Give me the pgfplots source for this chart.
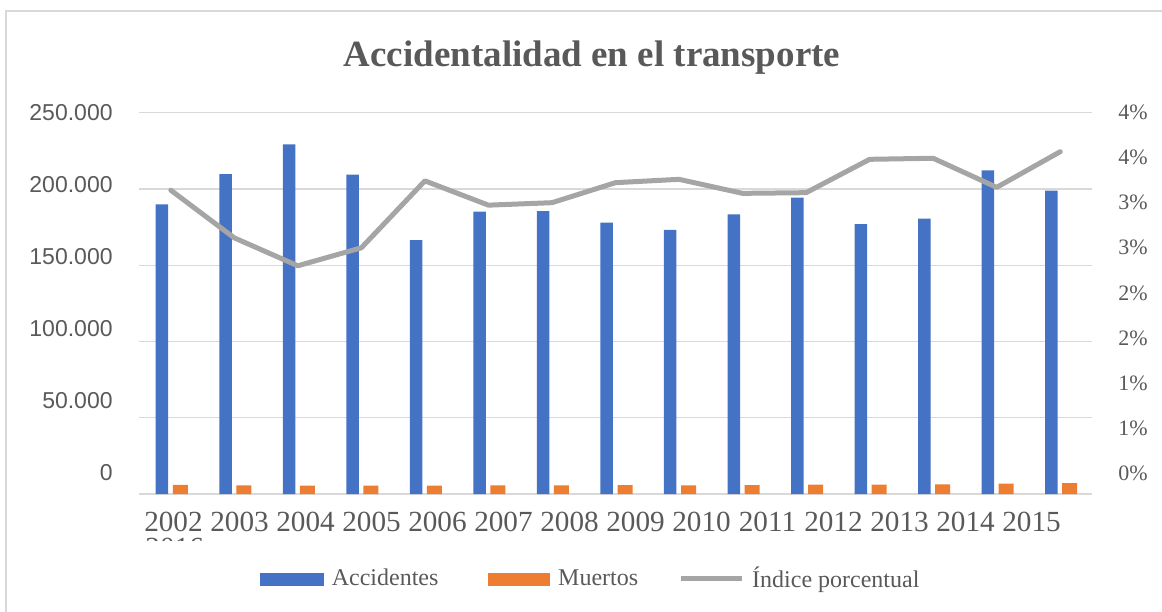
\documentclass[border=0pt]{standalone}
\usepackage{fontspec}
\setmainfont{Liberation Serif}
\newfontfamily\arial{Liberation Sans}
\usepackage{pgfplots}
\usepackage{pgfplotstable}
\pgfplotsset{compat=1.18}

\definecolor{accblue}{HTML}{4472C4}
\definecolor{accorange}{HTML}{ED7D31}
\definecolor{linegray}{HTML}{A5A5A5}
\definecolor{gridgray}{HTML}{D9D9D9}
\definecolor{labgray}{HTML}{595959}

% year, index on x, accidentes, muertos, indice (%)
\pgfplotstableread{
year idx acc mue ind
2002 0  189900 6050 3.187
2003 1  209800 5640 2.687
2004 2  229300 5490 2.394
2005 3  209400 5410 2.583
2006 4  166500 5470 3.285
2007 5  185100 5610 3.030
2008 6  185500 5670 3.056
2009 7  177900 5810 3.266
2010 8  173100 5710 3.301
2011 9  183400 5780 3.154
2012 10 194300 6140 3.161
2013 11 177000 6210 3.511
2014 12 180500 6360 3.522
2015 13 212200 6830 3.217
2016 14 198900 7140 3.591
}\datatable

\pgfplotsset{
  base/.style={
    at={(69.5pt,58.5pt)}, anchor=south west,
    width=476.5pt, height=190.65pt, scale only axis,
    xmin=-0.5, xmax=14.5,
    axis line style={draw=none},
    major tick length=0pt,
    scaled y ticks=false,
  },
}

\begin{document}
\begin{tikzpicture}[x=0.5pt,y=0.5pt]
\path[use as bounding box] (0,0) rectangle (1162,611);
\draw[gridgray, line width=1pt] (6,-30) rectangle (1200,600);

\node[anchor=base, text=labgray, font=\bfseries\fontsize{18.5}{22}\selectfont]
  at (592,544.3) {Accidentalidad en el transporte};

% bars + grid + x labels
\begin{axis}[base,
  ymin=0, ymax=250000,
  ytick={0,50000,100000,150000,200000,250000},
  yticklabel=\empty,
  ymajorgrids, grid style={draw=gridgray, line width=0.7pt},
  xtick={0.043,1.082,2.121,3.160,4.198,5.237,6.276,7.315,8.354,9.393,10.431,11.470,12.509,13.548},
  xticklabels={2002,2003,2004,2005,2006,2007,2008,2009,2010,2011,2012,2013,2014,2015},
  x tick label style={anchor=north, inner sep=0pt, yshift=-9pt,
    text=labgray, font=\fontsize{14.6}{17}\selectfont},
]
\addplot[ybar, bar width=6.25pt, bar shift=-4.4pt, fill=accblue, draw=none]
  table[x=idx, y=acc] {\datatable};
\addplot[ybar, bar width=7.5pt, bar shift=4.75pt, fill=accorange, draw=none]
  table[x=idx, y=mue] {\datatable};
\end{axis}

% line + legend
\begin{axis}[base,
  ymin=0, ymax=4,
  hide axis,
  legend columns=3,
  legend style={draw=none, fill=none, at={(0.127,-0.2229)}, anchor=west,
    inner sep=0pt, outer sep=0pt,
    nodes={inner sep=0pt, text=labgray, font=\fontsize{12}{14}\selectfont},
    /tikz/every odd column/.append style={column sep=4pt},
    /tikz/column 2/.append style={column sep=25pt},
    /tikz/column 4/.append style={column sep=20pt}},
]
\addlegendimage{legend image code/.code={\fill[accblue] (0pt,-3pt) rectangle (31.5pt,3pt);}}
\addlegendimage{legend image code/.code={\fill[accorange] (0pt,-3pt) rectangle (30.5pt,3pt);}}
\addlegendimage{legend image code/.code={\draw[linegray, line width=2.5pt] (0pt,0pt) -- (30.5pt,0pt);}}
\addplot[linegray, line width=2.5pt, line join=round, line cap=round, forget plot]
  table[x=idx, y=ind] {\datatable};
\legend{Accidentes, Muertos, Índice porcentual}
\end{axis}

% left labels
\begin{axis}[base,
  ymin=-14550, ymax=250000,
  xtick=\empty,
  ytick={0,50000,100000,150000,200000,250000},
  yticklabels={0,50.000,100.000,150.000,200.000,250.000},
  y tick label style={anchor=east, inner sep=0pt, xshift=-13pt,
    text=labgray, font=\arial\fontsize{11.5}{14}\selectfont},
]
\end{axis}

% right labels
\begin{axis}[base,
  ymin=-0.2328, ymax=4,
  xtick=\empty,
  ytick={0,0.5,1,1.5,2,2.5,3,3.5,4},
  yticklabels={0\%,1\%,1\%,2\%,2\%,3\%,3\%,4\%,4\%},
  yticklabel pos=right,
  y tick label style={anchor=west, inner sep=0pt, xshift=13pt,
    text=labgray, font=\fontsize{11}{13}\selectfont},
]
\end{axis}

% wrapped last category label, cut off in the original
\begin{scope}
\clip (140,71) rectangle (215,77);
\node[anchor=base west, inner sep=0pt, text=labgray, font=\fontsize{14.6}{17}\selectfont]
  at (145,54) {2016};
\end{scope}
\end{tikzpicture}
\end{document}
